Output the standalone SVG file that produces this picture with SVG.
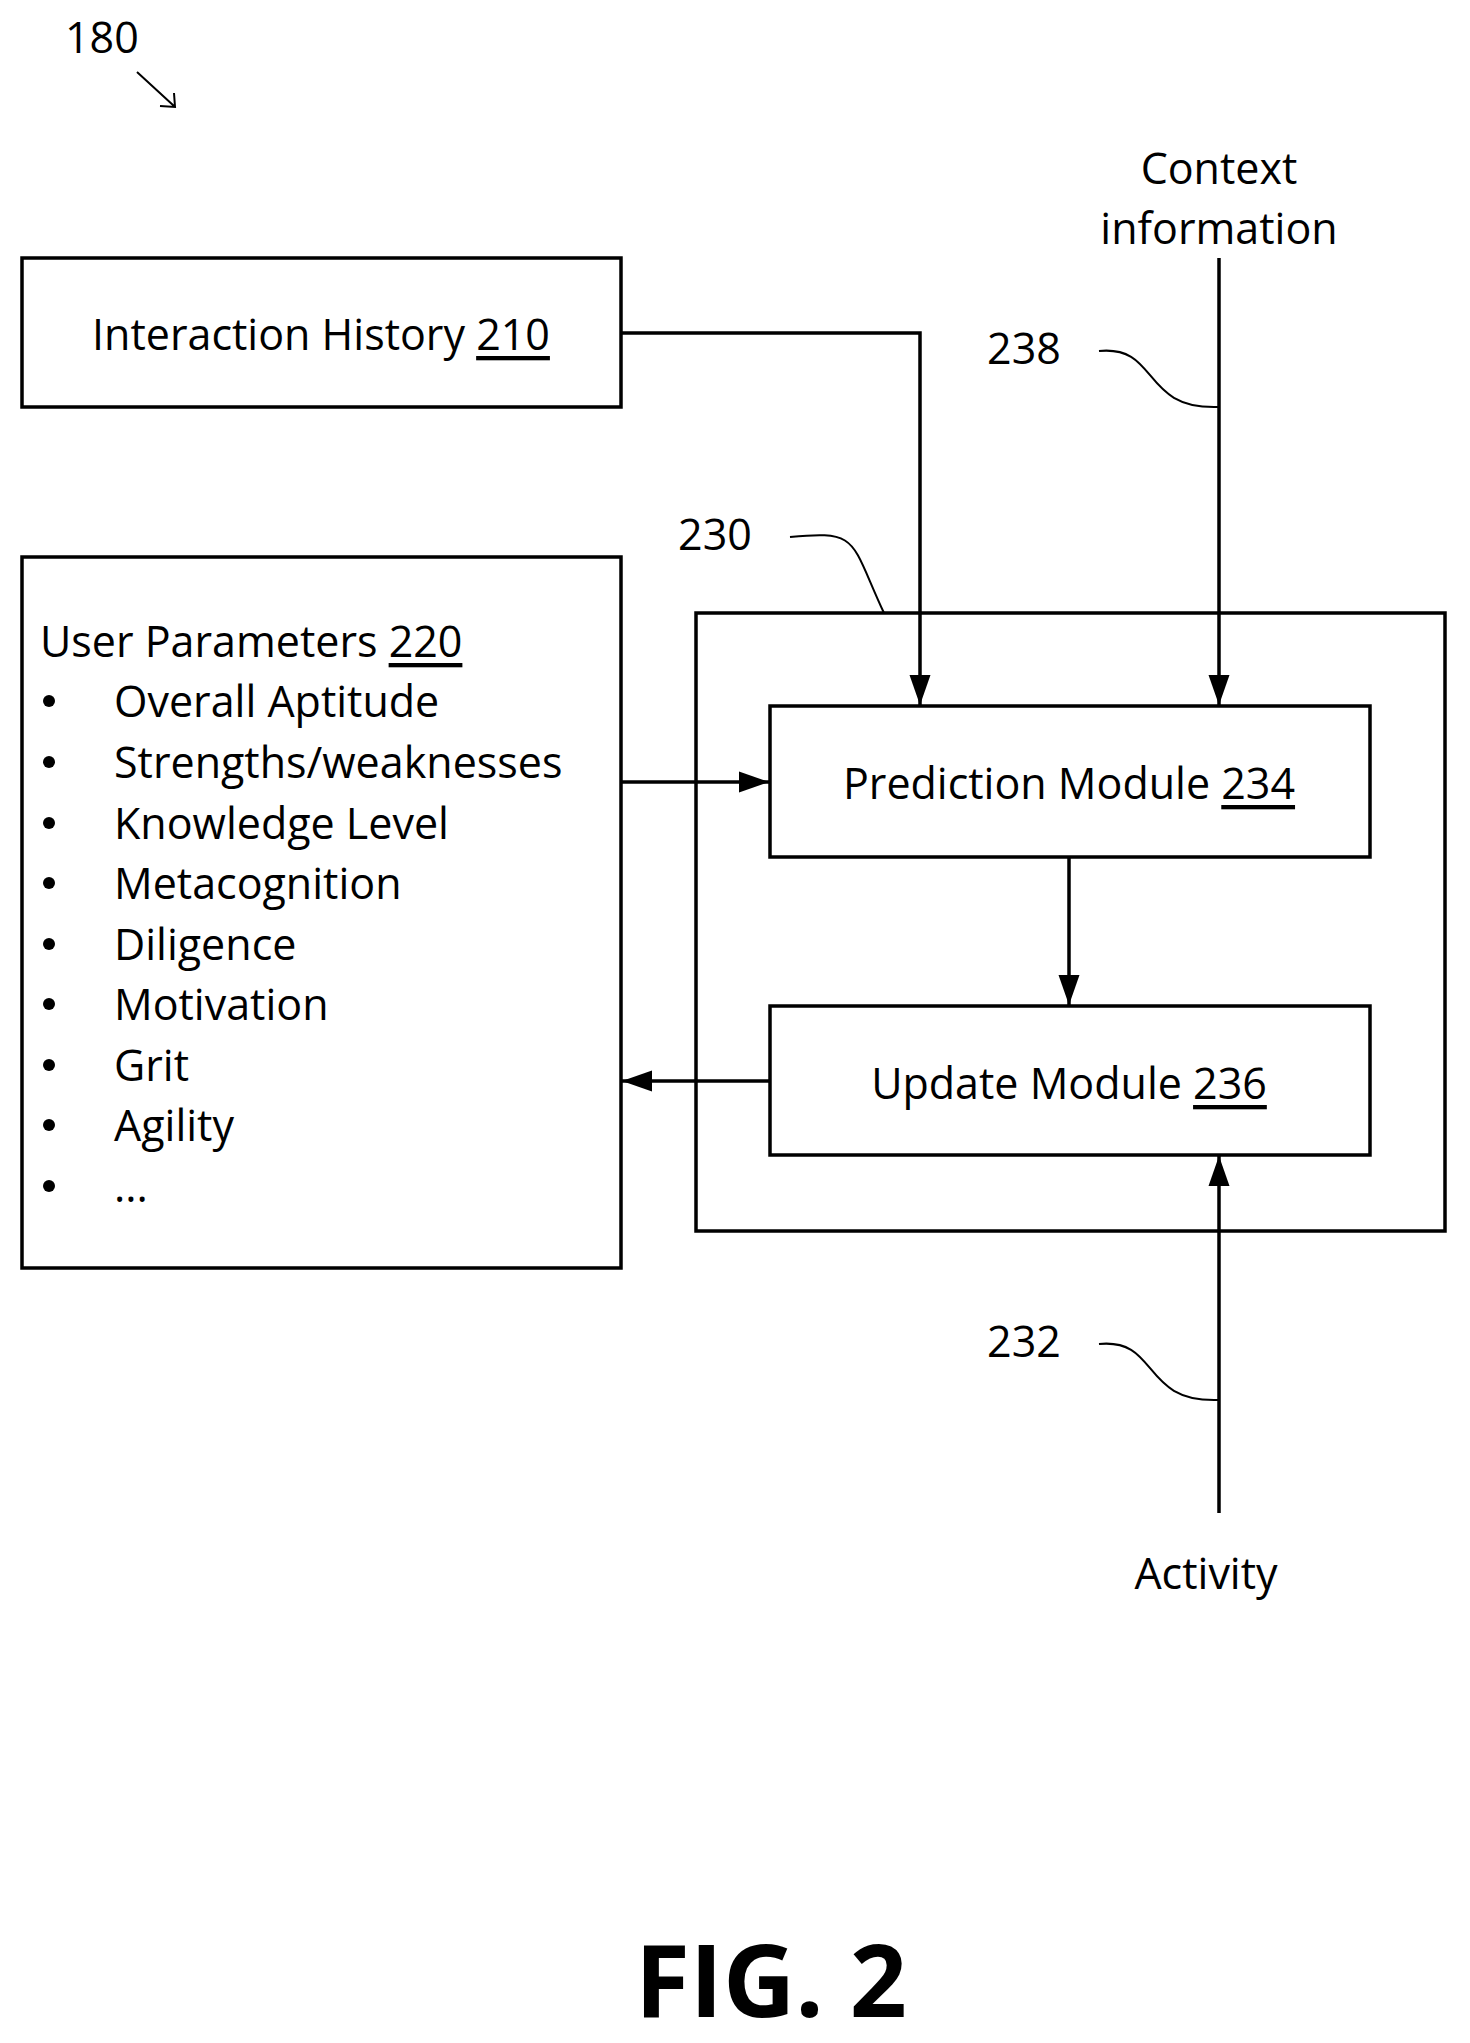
<svg xmlns="http://www.w3.org/2000/svg" width="1470" height="2043" viewBox="0 0 1470 2043">
<defs>
<style>
text{font-family:"Open Sans","Liberation Sans",sans-serif;font-size:43px;fill:#000}
.c{text-anchor:middle;dominant-baseline:central}
.l{dominant-baseline:central}
.u{text-decoration:underline}
rect{fill:none;stroke:#000;stroke-width:3.5}
.w{fill:none;stroke:#000;stroke-width:3.5}
.s{fill:none;stroke:#000;stroke-width:2}
</style>
<marker id="b" viewBox="0 0 10 10" refX="10" refY="5" markerWidth="30" markerHeight="30" markerUnits="userSpaceOnUse" orient="auto"><path d="M0,1.5L10,5L0,8.5z"/></marker>
</defs>
<rect width="1470" height="2043" style="fill:#fff;stroke:none"/>
<g id="label180"><text x="65" y="36" class="l">180</text><path class="s" d="M137,72L174,106M160,106L175,107L174,93"/></g>
<g id="n210"><rect x="22" y="258" width="599" height="149"/><text x="321" y="333" class="c">Interaction History <tspan class="u">210</tspan></text></g>
<g id="ctx"><text x="1219" y="167" class="c">Context</text><text x="1219" y="227" class="c">information</text></g>
<g id="n220"><rect x="22" y="557" width="599" height="711"/>
<text x="40" y="640" class="l">User Parameters <tspan class="u">220</tspan></text>
<g>
<circle cx="49" cy="701" r="6"/><circle cx="49" cy="762" r="6"/><circle cx="49" cy="823" r="6"/><circle cx="49" cy="883" r="6"/><circle cx="49" cy="944" r="6"/><circle cx="49" cy="1004" r="6"/><circle cx="49" cy="1065" r="6"/><circle cx="49" cy="1125" r="6"/><circle cx="49" cy="1186" r="6"/>
</g>
<text x="114" y="700" class="l">Overall Aptitude</text>
<text x="114" y="761" class="l">Strengths/weaknesses</text>
<text x="114" y="822" class="l">Knowledge Level</text>
<text x="114" y="882" class="l">Metacognition</text>
<text x="114" y="943" class="l">Diligence</text>
<text x="114" y="1003" class="l">Motivation</text>
<text x="114" y="1064" class="l">Grit</text>
<text x="114" y="1124" class="l">Agility</text>
<text x="114" y="1185" class="l">...</text>
</g>
<g id="n230"><rect x="696" y="613" width="749" height="618"/><text x="715" y="533" class="c">230</text><path class="s" d="M790,537C860,530 850,540 884,613"/></g>
<g id="n234"><rect x="770" y="706" width="600" height="151"/><text x="1069" y="782" class="c">Prediction Module <tspan class="u">234</tspan></text></g>
<g id="n236"><rect x="770" y="1006" width="600" height="149"/><text x="1069" y="1082" class="c">Update Module <tspan class="u">236</tspan></text></g>
<g id="l238"><text x="1024" y="347" class="c">238</text><path class="s" d="M1099,351C1160,345 1140,410 1219,407"/></g>
<g id="l232"><text x="1024" y="1340" class="c">232</text><path class="s" d="M1099,1344C1160,1338 1140,1403 1219,1400"/></g>
<g id="act"><text x="1206" y="1572" class="c">Activity</text></g>
<g id="connectors">
<path class="w" d="M621,333H920V705" marker-end="url(#b)"/>
<path class="w" d="M1219,258V705" marker-end="url(#b)"/>
<path class="w" d="M621,782H769" marker-end="url(#b)"/>
<path class="w" d="M1069,857V1005" marker-end="url(#b)"/>
<path class="w" d="M770,1081H622" marker-end="url(#b)"/>
<path class="w" d="M1219,1513V1156" marker-end="url(#b)"/>
</g>
<text x="771" y="1978" class="c" style="font-weight:bold;font-size:100px">FIG. 2</text>
</svg>
